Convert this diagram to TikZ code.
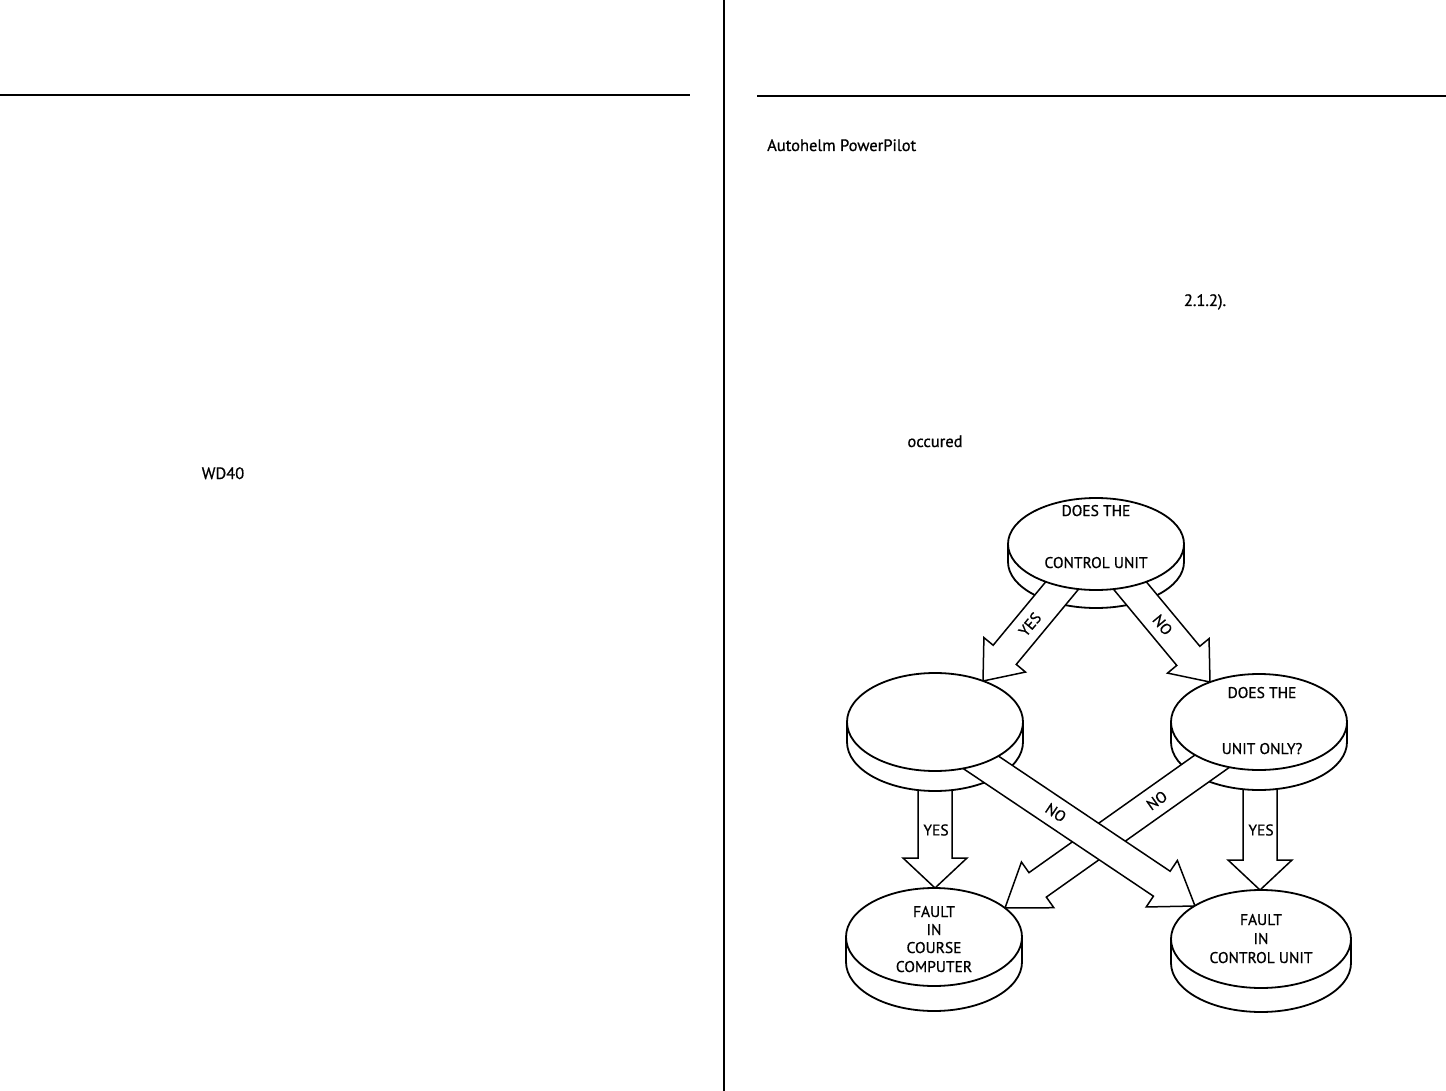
\documentclass[tikz,border=0pt]{standalone}
\usepackage{fontspec}
\setmainfont{PT Sans}
\newfontfamily\dfont[FakeBold=0.8]{PT Sans}
\usetikzlibrary{calc}
\tikzset{
  frame/.style={line width=1.3pt},
  diskline/.style={line width=1.8pt, fill=white},
  blk/.style={line width=1.5pt, fill=white, line join=miter},
  dtext/.style={font=\dfont\fontsize{15.5}{15.5}\selectfont, inner sep=0pt, anchor=base},
  atext/.style={font=\dfont\fontsize{15.5}{15.5}\selectfont, inner sep=0pt},
  ptext/.style={font=\dfont\fontsize{16.5}{16.5}\selectfont, inner sep=0pt, anchor=base},
}
% block arrow: #1 start, #2 tip, #3 half shaft width, #4 half head width, #5 head length
\newcommand{\blockarrow}[5]{%
  \coordinate (H) at ($(#2)!#5!(#1)$);
  \draw[blk] ($(#1)!#3!90:(#2)$) -- ($(H)!#3!90:(#2)$) -- ($(H)!#4!90:(#2)$) -- (#2)
    -- ($(H)!#4!-90:(#2)$) -- ($(H)!#3!-90:(#2)$) -- ($(#1)!#3!-90:(#2)$) -- cycle;
}
% disk body: #1 cx, #2 cy, #3 rx, #4 ry, #5 thickness
\newcommand{\diskbody}[5]{%
  \draw[diskline] (#1-#3,#2) -- (#1-#3,#2+#5)
    arc[start angle=180, end angle=0, x radius=#3, y radius=#4] -- (#1+#3,#2);
}
\newcommand{\diskface}[4]{%
  \draw[diskline] (#1,#2) ellipse[x radius=#3, y radius=#4];
}
\begin{document}
\begin{tikzpicture}[x=1pt,y=-1pt]
\useasboundingbox (0,0) rectangle (1446,1091);

% page frame lines
\draw[frame] (0,95) -- (690,95);
\draw[frame] (724,0) -- (724,1091);
\draw[frame] (757,96) -- (1446,96);

% stray text fragments
\node[ptext, anchor=base west] (t1) at (767,151) {Autohelm PowerPilot};
\node[ptext] (t2) at (1205,306) {2.1.2).};
\node[ptext] (t3) at (935,447) {occured};
\node[ptext] (t4) at (223,479) {WD40};

% disk centres
\coordinate (D1) at (1096,544);
\coordinate (D2) at (935,722);
\coordinate (D3) at (1259,722);
\coordinate (D4) at (934,937);
\coordinate (D5) at (1261,939);

% arrow end points
\coordinate (S1) at (1075,570);  \coordinate (T1) at (983,681);
\coordinate (S2) at (1117,570);  \coordinate (T2) at (1210,682);
\coordinate (S3) at (935,765);   \coordinate (T3) at (935,888);
\coordinate (S4) at (1260,765);  \coordinate (T4) at (1260,890);
\coordinate (S5) at (955,745);   \coordinate (T5) at (1195,906);
\coordinate (S6) at (1235,745);  \coordinate (T6) at (1005,908);

% vertical YES arrows (behind disk bodies)
\blockarrow{S3}{T3}{17pt}{32pt}{30pt}
\blockarrow{S4}{T4}{17pt}{32pt}{30pt}
\node[atext] (y3) at (936,830) {YES};
\node[atext] (y4) at (1261,830) {YES};

% disk bodies
\diskbody{1096}{544}{88}{46}{18}
\diskbody{935}{722}{88}{49}{20}
\diskbody{1259}{722}{88}{48}{20}
\diskbody{934}{937}{88}{49}{25}
\diskbody{1261}{939}{90}{49}{24}

% diagonal arrows
\blockarrow{S1}{T1}{15pt}{27pt}{34pt}
\path (S1) -- (T1) node[atext, sloped, pos=0.49] (y1) {YES};
\blockarrow{S2}{T2}{15pt}{27pt}{34pt}
\path (S2) -- (T2) node[atext, sloped, pos=0.49] (n2) {NO};
\blockarrow{S6}{T6}{15pt}{28pt}{40pt}
\path (S6) -- (T6) node[atext, sloped, pos=0.34] (n6) {NO};
\blockarrow{S5}{T5}{15pt}{28pt}{40pt}
\path (S5) -- (T5) node[atext, sloped, pos=0.42] (n5) {NO};

% disk faces
\diskface{1096}{544}{88}{46}
\diskface{935}{722}{88}{49}
\diskface{1259}{722}{88}{48}
\diskface{934}{937}{88}{49}
\diskface{1261}{939}{90}{49}

% disk texts
\node[dtext] (a1) at (1096,516) {DOES THE};
\node[dtext] (a2) at (1096,568) {CONTROL UNIT};
\node[dtext] (b1) at (1262,698) {DOES THE};
\node[dtext] (b2) at (1262,754) {UNIT ONLY?};
\node[dtext] (c1) at (934,917) {FAULT};
\node[dtext] (c2) at (934,935) {IN};
\node[dtext] (c3) at (934,953) {COURSE};
\node[dtext] (c4) at (934,972) {COMPUTER};
\node[dtext] (e1) at (1261,925) {FAULT};
\node[dtext] (e2) at (1261,944) {IN};
\node[dtext] (e3) at (1261,963) {CONTROL UNIT};
\end{tikzpicture}
\end{document}
